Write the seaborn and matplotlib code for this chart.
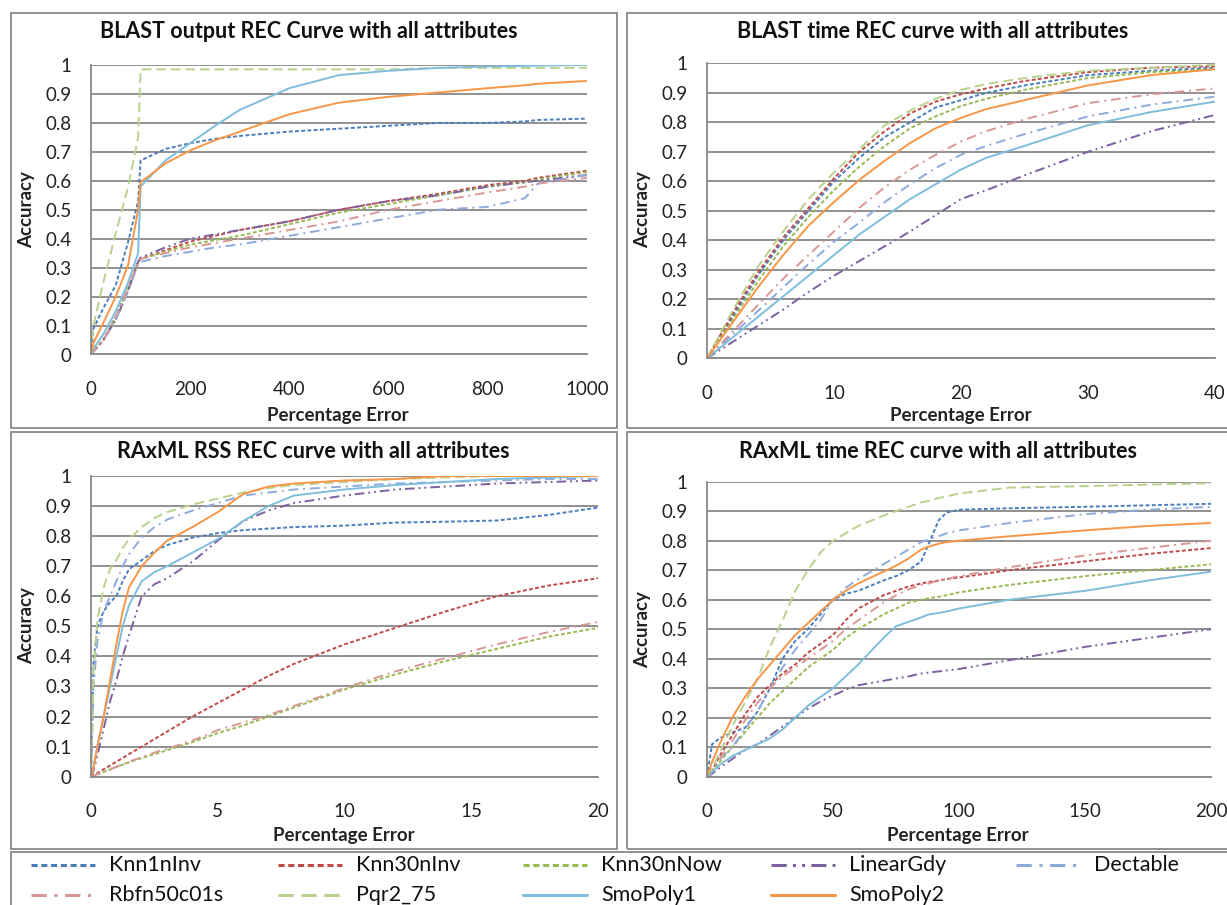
import matplotlib
matplotlib.use('Agg')
import numpy as np
import pandas as pd
import matplotlib.pyplot as plt
from matplotlib.patches import Rectangle
import seaborn as sns

# REC curves of nine regression models, four prediction tasks

models = ["Knn1nInv", "Knn30nInv", "Knn30nNow", "LinearGdy", "Dectable",
          "Rbfn50c01s", "Pqr2_75", "SmoPoly1", "SmoPoly2"]
colors = ["#4a7ebb", "#be4b48", "#98b954", "#7d60a0", "#8eaadb",
          "#d99795", "#b9d18c", "#7fbddc", "#f79646"]
dash_pat = [(2, 1.2), (2, 1.2), (2, 1.2), (5, 2, 1, 2, 1, 2), (5, 2.5, 1, 2.5),
            (5, 2.5, 1, 2.5), (5, 2.5), "", ""]

# BLAST output
blast_out_x = [0, 5, 25, 50, 75, 95, 100, 150, 200, 250, 300, 400, 500, 600, 700, 800, 875, 900, 1000]
blast_out = {
    "Knn1nInv":   [0, 0.09, 0.16, 0.24, 0.39, 0.53, 0.67, 0.71, 0.73, 0.745, 0.755, 0.77, 0.78, 0.79, 0.80, 0.80, 0.805, 0.81, 0.815],
    "Knn30nInv":  [0, 0.01, 0.05, 0.13, 0.23, 0.32, 0.33, 0.36, 0.39, 0.41, 0.43, 0.46, 0.50, 0.53, 0.555, 0.585, 0.60, 0.61, 0.635],
    "Knn30nNow":  [0, 0.01, 0.05, 0.13, 0.23, 0.32, 0.33, 0.355, 0.38, 0.395, 0.41, 0.45, 0.49, 0.52, 0.55, 0.58, 0.595, 0.605, 0.63],
    "LinearGdy":  [0, 0.01, 0.05, 0.12, 0.22, 0.32, 0.335, 0.37, 0.40, 0.415, 0.43, 0.46, 0.50, 0.53, 0.55, 0.58, 0.595, 0.60, 0.62],
    "Dectable":   [0, 0.01, 0.05, 0.12, 0.22, 0.31, 0.32, 0.34, 0.355, 0.37, 0.38, 0.41, 0.44, 0.47, 0.50, 0.51, 0.54, 0.59, 0.62],
    "Rbfn50c01s": [0, 0.01, 0.05, 0.13, 0.23, 0.32, 0.33, 0.35, 0.37, 0.385, 0.40, 0.43, 0.46, 0.50, 0.53, 0.56, 0.58, 0.59, 0.61],
    "Pqr2_75":    [0, 0.1, 0.25, 0.42, 0.58, 0.75, 0.985, 0.985, 0.985, 0.985, 0.985, 0.985, 0.985, 0.985, 0.99, 0.99, 0.99, 0.99, 0.99],
    "SmoPoly1":   [0, 0.02, 0.07, 0.15, 0.25, 0.35, 0.58, 0.67, 0.73, 0.79, 0.845, 0.92, 0.965, 0.98, 0.99, 0.995, 0.997, 0.998, 1.0],
    "SmoPoly2":   [0, 0.04, 0.11, 0.2, 0.31, 0.5, 0.595, 0.66, 0.705, 0.74, 0.77, 0.83, 0.87, 0.89, 0.905, 0.92, 0.93, 0.935, 0.945],
}

# BLAST time
blast_time_x = [0, 2, 4, 6, 8, 10, 12, 14, 16, 18, 20, 22, 25, 30, 35, 40]
blast_time = {
    "Knn1nInv":   [0, 0.14, 0.28, 0.40, 0.50, 0.60, 0.68, 0.75, 0.80, 0.85, 0.875, 0.90, 0.925, 0.96, 0.975, 0.985],
    "Knn30nInv":  [0, 0.15, 0.29, 0.41, 0.51, 0.61, 0.70, 0.77, 0.83, 0.87, 0.895, 0.915, 0.94, 0.97, 0.985, 0.99],
    "Knn30nNow":  [0, 0.13, 0.26, 0.38, 0.48, 0.57, 0.65, 0.72, 0.78, 0.82, 0.855, 0.88, 0.91, 0.95, 0.97, 0.98],
    "LinearGdy":  [0, 0.055, 0.11, 0.165, 0.225, 0.28, 0.33, 0.38, 0.43, 0.485, 0.54, 0.57, 0.62, 0.70, 0.77, 0.825],
    "Dectable":   [0, 0.08, 0.16, 0.24, 0.32, 0.395, 0.46, 0.53, 0.59, 0.645, 0.69, 0.72, 0.76, 0.82, 0.86, 0.887],
    "Rbfn50c01s": [0, 0.09, 0.18, 0.27, 0.35, 0.43, 0.51, 0.58, 0.64, 0.69, 0.735, 0.77, 0.81, 0.865, 0.895, 0.915],
    "Pqr2_75":    [0, 0.16, 0.31, 0.43, 0.54, 0.63, 0.71, 0.79, 0.84, 0.88, 0.91, 0.93, 0.95, 0.975, 0.985, 0.995],
    "SmoPoly1":   [0, 0.07, 0.14, 0.21, 0.28, 0.35, 0.42, 0.48, 0.54, 0.59, 0.64, 0.68, 0.72, 0.79, 0.835, 0.87],
    "SmoPoly2":   [0, 0.12, 0.24, 0.35, 0.45, 0.53, 0.605, 0.67, 0.73, 0.78, 0.815, 0.845, 0.875, 0.925, 0.96, 0.98],
}

# RAxML RSS
raxml_rss_x = [0, 0.1, 0.25, 0.5, 0.75, 1, 1.25, 1.5, 2, 2.5, 3, 4, 5, 6, 7, 8, 10, 12, 14, 16, 18, 20]
raxml_rss = {
    "Knn1nInv":   [0, 0.38, 0.5, 0.55, 0.58, 0.6, 0.65, 0.69, 0.72, 0.75, 0.77, 0.795, 0.81, 0.82, 0.825, 0.83, 0.835, 0.845, 0.848, 0.852, 0.87, 0.895],
    "Knn30nInv":  [0, 0.005, 0.012, 0.025, 0.037, 0.05, 0.062, 0.075, 0.1, 0.125, 0.15, 0.2, 0.245, 0.29, 0.335, 0.375, 0.44, 0.495, 0.55, 0.6, 0.635, 0.66],
    "Knn30nNow":  [0, 0.003, 0.008, 0.016, 0.024, 0.032, 0.04, 0.048, 0.062, 0.075, 0.088, 0.115, 0.145, 0.17, 0.2, 0.23, 0.29, 0.34, 0.385, 0.425, 0.465, 0.495],
    "LinearGdy":  [0, 0.02, 0.07, 0.16, 0.25, 0.32, 0.4, 0.47, 0.6, 0.64, 0.66, 0.715, 0.785, 0.85, 0.885, 0.91, 0.935, 0.955, 0.965, 0.975, 0.98, 0.985],
    "Dectable":   [0, 0.3, 0.45, 0.55, 0.6, 0.65, 0.7, 0.74, 0.795, 0.83, 0.855, 0.885, 0.91, 0.935, 0.945, 0.955, 0.965, 0.975, 0.98, 0.985, 0.99, 0.99],
    "Rbfn50c01s": [0, 0.003, 0.008, 0.016, 0.025, 0.033, 0.041, 0.05, 0.065, 0.08, 0.093, 0.12, 0.155, 0.18, 0.205, 0.235, 0.295, 0.35, 0.395, 0.44, 0.48, 0.515],
    "Pqr2_75":    [0, 0.35, 0.52, 0.63, 0.69, 0.72, 0.76, 0.79, 0.83, 0.86, 0.88, 0.905, 0.925, 0.945, 0.96, 0.97, 0.98, 0.99, 0.995, 1.0, 1.0, 1.0],
    "SmoPoly1":   [0, 0.03, 0.1, 0.2, 0.3, 0.4, 0.5, 0.57, 0.65, 0.68, 0.70, 0.745, 0.79, 0.85, 0.9, 0.935, 0.955, 0.97, 0.98, 0.99, 0.995, 1.0],
    "SmoPoly2":   [0, 0.03, 0.1, 0.2, 0.32, 0.44, 0.55, 0.63, 0.7, 0.745, 0.785, 0.83, 0.88, 0.94, 0.965, 0.975, 0.985, 0.99, 1.0, 1.0, 1.0, 1.0],
}

# RAxML time
raxml_time_x = [0, 2, 5, 10, 15, 20, 25, 30, 35, 40, 45, 50, 55, 60, 70, 75, 80, 85, 88, 92, 95, 100, 120, 150, 175, 200]
raxml_time = {
    "Knn1nInv":   [0, 0.11, 0.13, 0.15, 0.165, 0.22, 0.3, 0.4, 0.46, 0.5, 0.55, 0.6, 0.62, 0.63, 0.665, 0.68, 0.7, 0.73, 0.79, 0.87, 0.895, 0.905, 0.91, 0.915, 0.92, 0.925],
    "Knn30nInv":  [0, 0.02, 0.07, 0.14, 0.21, 0.27, 0.31, 0.35, 0.38, 0.42, 0.45, 0.48, 0.53, 0.57, 0.615, 0.63, 0.645, 0.655, 0.66, 0.665, 0.67, 0.675, 0.7, 0.73, 0.755, 0.775],
    "Knn30nNow":  [0, 0.02, 0.05, 0.1, 0.15, 0.2, 0.25, 0.29, 0.33, 0.37, 0.4, 0.43, 0.47, 0.5, 0.55, 0.57, 0.59, 0.6, 0.605, 0.61, 0.615, 0.625, 0.65, 0.68, 0.7, 0.72],
    "LinearGdy":  [0, 0.01, 0.03, 0.06, 0.09, 0.11, 0.14, 0.17, 0.2, 0.23, 0.255, 0.275, 0.295, 0.31, 0.325, 0.333, 0.34, 0.35, 0.353, 0.357, 0.36, 0.365, 0.395, 0.44, 0.47, 0.5],
    "Dectable":   [0, 0.03, 0.06, 0.1, 0.16, 0.22, 0.3, 0.37, 0.43, 0.48, 0.53, 0.6, 0.64, 0.67, 0.72, 0.745, 0.77, 0.795, 0.805, 0.815, 0.825, 0.835, 0.86, 0.89, 0.905, 0.915],
    "Rbfn50c01s": [0, 0.02, 0.06, 0.12, 0.19, 0.25, 0.3, 0.34, 0.37, 0.4, 0.43, 0.46, 0.5, 0.53, 0.59, 0.615, 0.635, 0.65, 0.655, 0.665, 0.67, 0.68, 0.71, 0.75, 0.775, 0.8],
    "Pqr2_75":    [0, 0.03, 0.08, 0.17, 0.25, 0.33, 0.44, 0.53, 0.63, 0.7, 0.76, 0.8, 0.825, 0.85, 0.885, 0.9, 0.915, 0.93, 0.935, 0.945, 0.95, 0.96, 0.98, 0.985, 0.99, 0.995],
    "SmoPoly1":   [0, 0.015, 0.04, 0.07, 0.09, 0.11, 0.13, 0.16, 0.2, 0.24, 0.27, 0.3, 0.34, 0.38, 0.47, 0.51, 0.525, 0.54, 0.55, 0.555, 0.56, 0.57, 0.6, 0.63, 0.665, 0.695],
    "SmoPoly2":   [0, 0.05, 0.11, 0.2, 0.27, 0.33, 0.38, 0.43, 0.48, 0.52, 0.56, 0.6, 0.63, 0.655, 0.695, 0.715, 0.74, 0.77, 0.78, 0.79, 0.795, 0.8, 0.815, 0.835, 0.85, 0.86],
}

W, H = 1227, 905
GRID = "#888888"

sns.set_style("white")
plt.rcParams['font.family'] = ['Lato', 'DejaVu Sans']

fig = plt.figure(figsize=(W / 100, H / 100), dpi=100)


def fx(px):
    return px / W


def fy(py):
    return 1 - py / H


def long_df(xs, ys):
    rows = []
    for m in models:
        for x, y in zip(xs, ys[m]):
            rows.append((m, x, y))
    return pd.DataFrame(rows, columns=["model", "err", "acc"])


def panel(box, plot, xs, ys, xmax, xstep, title, title_xy, xlab_xy, ylab_xy, tick_gap):
    # frame round the chart, excel style
    fig.patches.append(Rectangle((fx(box[0]), fy(box[3])), fx(box[2] - box[0]), (box[3] - box[1]) / H,
                                 transform=fig.transFigure, fill=False, edgecolor=GRID, lw=1.3))
    x0, y1, x1, y0 = plot
    ax = fig.add_axes([fx(x0), fy(y0), fx(x1 - x0), (y0 - y1) / H])
    df = long_df(xs, ys)
    sns.lineplot(data=df, x="err", y="acc", hue="model", style="model",
                 hue_order=models, style_order=models,
                 palette=dict(zip(models, colors)), dashes=dict(zip(models, dash_pat)),
                 estimator=None, sort=False, linewidth=1.4, legend=False, ax=ax)
    ax.set_xlim(0, xmax)
    ax.set_ylim(0, 1)
    ax.set_xticks(np.arange(0, xmax + xstep / 2, xstep))
    ax.set_yticks(np.round(np.arange(0, 1.01, 0.1), 1))
    ax.set_yticklabels(["0"] + ["%.1f" % v for v in np.arange(0.1, 0.95, 0.1)] + ["1"])
    ax.grid(axis="y", color=GRID, lw=1.3)
    ax.grid(axis="x", visible=False)
    ax.set_axisbelow(True)
    for s in ["top", "right"]:
        ax.spines[s].set_visible(False)
    for s in ["left", "bottom"]:
        ax.spines[s].set_color(GRID)
        ax.spines[s].set_linewidth(1.3)
    ax.tick_params(axis="y", length=6, width=1.3, color=GRID, pad=8, labelsize=13.5, labelcolor="#222222")
    ax.tick_params(axis="x", length=5, width=1.3, color=GRID, pad=tick_gap, labelsize=13.5, labelcolor="#222222")
    ax.set_xlabel("")
    ax.set_ylabel("")
    fig.text(fx(title_xy[0]), fy(title_xy[1]), title, ha="center", va="center",
             fontsize=15.5, fontweight="bold", color="#111111")
    fig.text(fx(xlab_xy[0]), fy(xlab_xy[1]), "Percentage Error", ha="center", va="center",
             fontsize=13.5, fontweight="bold", color="#222222")
    fig.text(fx(ylab_xy[0]), fy(ylab_xy[1]), "Accuracy", ha="center", va="center", rotation=90,
             fontsize=13.5, fontweight="bold", color="#222222")
    return ax


panel((11, 13, 617, 428), (91, 65, 587, 354.5), blast_out_x, blast_out, 1000, 200,
      "BLAST output REC Curve with all attributes", (309, 32), (338, 415), (27, 210), 14)
panel((627, 13, 1240, 428), (707, 63.3, 1215, 358.3), blast_time_x, blast_time, 40, 10,
      "BLAST time REC curve with all attributes", (933, 32), (961, 415), (643, 210), 14)
panel((11, 432, 617, 849), (91, 476, 598, 776.7), raxml_rss_x, raxml_rss, 20, 5,
      "RAxML RSS REC curve with all attributes", (313, 451), (344, 835), (27, 626), 14)
panel((627, 432, 1240, 849), (707, 481.7, 1211, 776.7), raxml_time_x, raxml_time, 200, 50,
      "RAxML time REC curve with all attributes", (938, 451), (958, 835), (643, 630), 14)

# legend strip at the bottom
fig.patches.append(Rectangle((fx(11), fy(925)), fx(1240), 73 / H, transform=fig.transFigure,
                             fill=False, edgecolor=GRID, lw=1.3))
col_x = [31, 278, 523, 771, 1016]
row_y = [865, 895]
for i, m in enumerate(models):
    cx = col_x[i % 5]
    cy = row_y[i // 5]
    ln = matplotlib.lines.Line2D([fx(cx), fx(cx + 64)], [fy(cy), fy(cy)], transform=fig.transFigure,
                                 color=colors[i], lw=2.2)
    if dash_pat[i]:
        ln.set_dashes(dash_pat[i])
    fig.lines.append(ln)
    fig.text(fx(cx + 78), fy(cy), m, ha="left", va="center", fontsize=15.5, color="#111111")

fig.savefig("out.png", dpi=100)
